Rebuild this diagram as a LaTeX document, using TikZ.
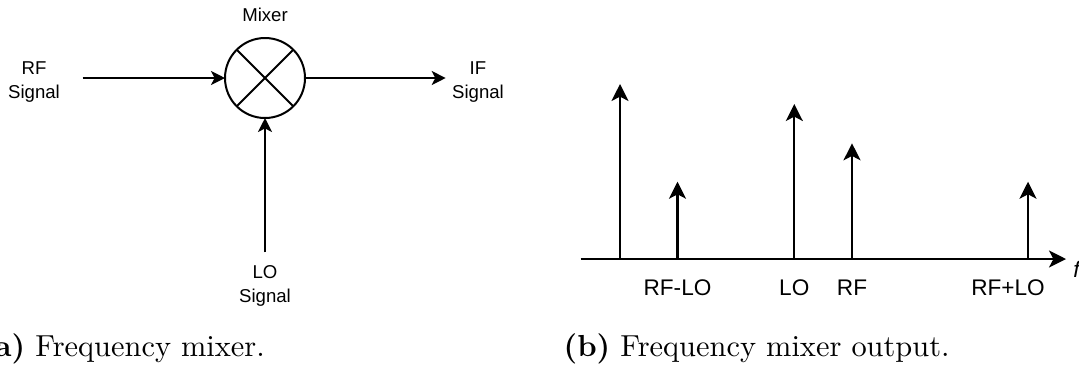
\documentclass[tikz,border=0pt]{standalone}
\usepackage{fontspec}
\newfontfamily\labelfont{Liberation Sans}
\newfontfamily\capfont{lmroman10-regular}[Extension=.otf, BoldFont=lmroman10-bold]
\usetikzlibrary{arrows.meta}
\begin{document}
\begin{tikzpicture}[x=0.5pt,y=-0.5pt,
  wire/.style={line width=1pt, -{Stealth[length=7pt,width=7pt,inset=1.8pt]}},
  spike/.style={line width=1.1pt, -{Stealth[length=8.5pt,width=8.5pt,inset=2.2pt]}},
  lbl/.style={font=\labelfont\fontsize{9.3}{11.7}\selectfont, align=center, inner sep=0},
  ticklbl/.style={font=\labelfont\fontsize{11.3}{13}\selectfont, inner sep=0, anchor=base},
  captxt/.style={font=\capfont\fontsize{15.2}{18}\selectfont, inner sep=0, anchor=base west}]
\useasboundingbox (0,0) rectangle (1079,372);
% (a) mixer
\node[circle, draw, line width=1pt, minimum size=40pt, inner sep=0, outer sep=0] (mix) at (265,78) {};
\draw[line width=1pt] (mix.45) -- (mix.225) (mix.135) -- (mix.315);
\node[lbl, anchor=base] (mixl) at (265,21.7) {Mixer};
\node[lbl] (rf) at (34,82) {RF\\Signal};
\node[lbl] (if) at (478,82) {IF\\Signal};
\node[lbl] (lo) at (265,286) {LO\\Signal};
\coordinate (rfs) at (82.5,78);
\coordinate (ife) at (445.7,78);
\coordinate (los) at (265,252.3);
\draw[wire] (rfs) -- (mix.west);
\draw[wire] (mix.east) -- (ife);
\draw[wire] (los) -- (mix.south);
% (b) spectrum
\coordinate (a0) at (580.5,259);
\coordinate (a1) at (1066,259);
\draw[spike] (a0) -- (a1);
\coordinate (b1) at (620,259);   \coordinate (t1) at (620,84);
\coordinate (b2) at (677.5,259); \coordinate (t2) at (677.5,181.7);
\coordinate (b3) at (794.3,259); \coordinate (t3) at (794.3,104);
\coordinate (b4) at (852,259);   \coordinate (t4) at (852,143.3);
\coordinate (b5) at (1028,259);  \coordinate (t5) at (1028,181.7);
\foreach \i in {1,...,5} \draw[spike] (b\i) -- (t\i);
\node[ticklbl] (l1) at (677.5,295) {RF-LO};
\node[ticklbl] (l2) at (794.3,295) {LO};
\node[ticklbl] (l3) at (852,295) {RF};
\node[ticklbl] (l4) at (1008,295) {RF+LO};
\node[font=\labelfont\itshape\fontsize{11.3}{13}\selectfont, anchor=base west, inner sep=0] (f) at (1073,277) {f};
% captions
\node[captxt] (capa) at (35,356) {\llap{\textbf{(a)}\ }Frequency mixer.};
\node[captxt] (capb) at (620,356) {\llap{\textbf{(b)}\ }Frequency mixer output.};
\end{tikzpicture}
\end{document}
